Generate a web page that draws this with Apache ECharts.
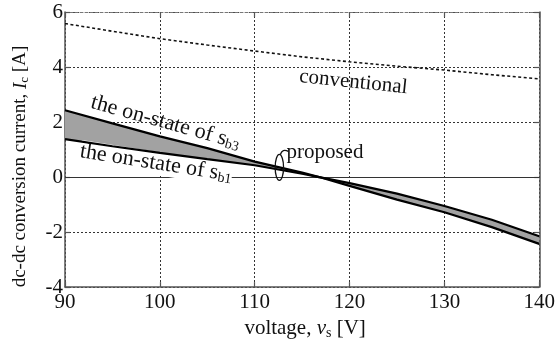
<!DOCTYPE html>
<html>
<head>
<meta charset="utf-8">
<script src="https://cdn.jsdelivr.net/npm/echarts@6/dist/echarts.min.js"></script>
<style>
  html, body { margin: 0; padding: 0; background: #fff; }
  #chart { width: 558px; height: 345px; }
</style>
</head>
<body>
<div id="chart"></div>
<script>
// Supply voltage (V) at which the dc-dc conversion current was evaluated
const voltage = [90, 95, 100, 105, 110, 115, 116.8, 120, 125, 130, 135, 140];
// Proposed method: current with s_b3 on-state and with s_b1 on-state (A)
const currentSb3 = [2.43, 1.95, 1.48, 1.05, 0.56, 0.16, 0, -0.32, -0.82, -1.28, -1.82, -2.43];
const currentSb1 = [1.38, 1.12, 0.88, 0.65, 0.43, 0.12, 0, -0.22, -0.60, -1.05, -1.55, -2.15];
// Conventional method (A)
const convVoltage = [90, 95, 100, 105, 110, 115, 120, 125, 130, 135, 140];
const currentConv = [5.58, 5.30, 5.03, 4.80, 4.58, 4.37, 4.19, 4.03, 3.89, 3.72, 3.57];
// Axis ranges
const xRange = [90, 140, 10];
const yRange = [-4, 6, 2];

const SERIF = '"Liberation Serif", "DejaVu Serif", serif';
const INK = '#111';

const pairs = (xs, ys) => xs.map((x, i) => [x, ys[i]]);

const chart = echarts.init(document.getElementById('chart'), null, { renderer: 'canvas' });

const labelStyle = { fontFamily: SERIF, fontSize: 21, color: INK };
const gridDash = { type: [2, 2], color: '#333', width: 1 };
const frame = { color: '#555', width: 1.5 };

const option = {
  animation: false,
  backgroundColor: '#fff',
  grid: { left: 65, right: 17, top: 12, bottom: 57, containLabel: false },
  xAxis: [
    {
      type: 'value', min: xRange[0], max: xRange[1], interval: xRange[2],
      position: 'bottom',
      axisLine: { show: true, onZero: false, lineStyle: frame },
      axisTick: { show: true, inside: true, length: 5, lineStyle: { color: '#555', width: 1.2 } },
      axisLabel: Object.assign({ margin: 5 }, labelStyle),
      splitLine: { show: true, lineStyle: gridDash },
      name: 'voltage, {i|v}{sub|s} [V]',
      nameLocation: 'middle',
      nameGap: 21,
      nameTextStyle: {
        fontFamily: SERIF, fontSize: 21, color: INK, verticalAlign: 'top',
        padding: [0, 0, 0, 6],
        rich: {
          i: { fontFamily: SERIF, fontSize: 21, fontStyle: 'italic', color: INK },
          sub: { fontFamily: SERIF, fontSize: 14, color: INK, padding: [9, 0, 0, 0] }
        }
      }
    },
    {
      type: 'value', min: xRange[0], max: xRange[1], interval: xRange[2],
      position: 'top',
      axisLine: { show: true, onZero: false, lineStyle: { color: '#777', width: 1, type: [3, 2] } },
      axisTick: { show: true, inside: true, length: 5, lineStyle: { color: '#555', width: 1.2 } },
      axisLabel: { show: false },
      splitLine: { show: false }
    }
  ],
  yAxis: [
    {
      type: 'value', min: yRange[0], max: yRange[1], interval: yRange[2],
      position: 'left',
      axisLine: { show: true, onZero: false, lineStyle: frame },
      axisTick: { show: true, inside: true, length: 5, lineStyle: { color: '#555', width: 1.2 } },
      axisLabel: Object.assign({ margin: 2 }, labelStyle),
      splitLine: { show: true, lineStyle: gridDash },
      name: 'dc-dc conversion current, {i|I}{sub|c} [A]',
      nameLocation: 'middle',
      nameGap: 34,
      nameTextStyle: {
        fontFamily: SERIF, fontSize: 19, color: INK,
        padding: [0, 34, 0, 0],
        rich: {
          i: { fontFamily: SERIF, fontSize: 19, fontStyle: 'italic', color: INK },
          sub: { fontFamily: SERIF, fontSize: 13, color: INK, padding: [8, 0, 0, 0] }
        }
      }
    },
    {
      type: 'value', min: yRange[0], max: yRange[1], interval: yRange[2],
      position: 'right',
      axisLine: { show: true, onZero: false, lineStyle: frame },
      axisTick: { show: true, inside: true, length: 5, lineStyle: { color: '#555', width: 1.2 } },
      axisLabel: { show: false },
      splitLine: { show: false }
    }
  ],
  series: [
    {
      // zero reference line
      type: 'line', data: [], z: 1, silent: true,
      markLine: {
        silent: true, symbol: 'none', animation: false,
        label: { show: false },
        lineStyle: { color: '#333', width: 1.2, type: 'solid' },
        data: [{ yAxis: 0 }]
      }
    },
    {
      // shaded band between the two on-state curves
      type: 'custom', coordinateSystem: 'cartesian2d', silent: true, z: 3,
      data: [[voltage[0], currentSb3[0]]],
      renderItem: (params, api) => {
        const pts = [];
        voltage.forEach((v, i) => pts.push(api.coord([v, currentSb3[i]])));
        for (let i = voltage.length - 1; i >= 0; i--) pts.push(api.coord([voltage[i], currentSb1[i]]));
        return { type: 'polygon', shape: { points: pts }, style: { fill: '#a2a2a2', stroke: null } };
      }
    },
    {
      name: 'sb3', type: 'line', z: 10, symbol: 'none', silent: true,
      data: pairs(voltage, currentSb3),
      lineStyle: { color: '#000', width: 2.2 }
    },
    {
      name: 'sb1', type: 'line', z: 10, symbol: 'none', silent: true,
      data: pairs(voltage, currentSb1),
      lineStyle: { color: '#000', width: 2.2 }
    },
    {
      name: 'conventional', type: 'line', z: 10, symbol: 'none', silent: true,
      data: pairs(convVoltage, currentConv),
      lineStyle: { color: '#111', width: 1.6, type: [3, 2.5] }
    }
  ]
};

chart.setOption(option);

// Annotations anchored to data coordinates
const px = (v, i) => chart.convertToPixel({ gridIndex: 0 }, [v, i]);
const deg = d => d * Math.PI / 180;

const annoText = (pos, text, rot, extra) => ({
  type: 'text', x: pos[0], y: pos[1], rotation: deg(rot), z: 5,
  style: Object.assign({
    text: text, fontFamily: SERIF, fontSize: 21, fill: INK,
    align: 'center', verticalAlign: 'middle',
    rich: {
      sub: { fontFamily: SERIF, fontSize: 14, fill: INK, padding: [9, 0, 0, 0] }
    }
  }, extra || {})
});

const sb3Pos = px(100.6, 1.98);
const sb1Pos = px(99.6, 0.50);
const convPos = px(120.4, 3.45);
const propPos = px(117.4, 0.90);
const ringC = px(112.6, 0.35);

chart.setOption({
  graphic: [
    annoText(sb3Pos, 'the on-state of s{sub|b3}', -15.5, { fontSize: 22 }),
    annoText(sb1Pos, 'the on-state of s{sub|b1}', -9, { backgroundColor: '#fff', fontSize: 22 }),
    annoText(convPos, 'conventional', -6),
    annoText(propPos, 'proposed', 0),
    {
      type: 'ellipse', z: 12,
      shape: { cx: ringC[0], cy: ringC[1], rx: 4.2, ry: 13 },
      style: { fill: null, stroke: '#111', lineWidth: 1.3 }
    },
    {
      type: 'bezierCurve', z: 12,
      shape: {
        x1: ringC[0] + 1, y1: ringC[1] - 13,
        cpx1: ringC[0] + 3, cpy1: ringC[1] - 19,
        x2: ringC[0] + 9, y2: ringC[1] - 16
      },
      style: { fill: null, stroke: '#111', lineWidth: 1.3 }
    }
  ]
});
</script>
</body>
</html>
